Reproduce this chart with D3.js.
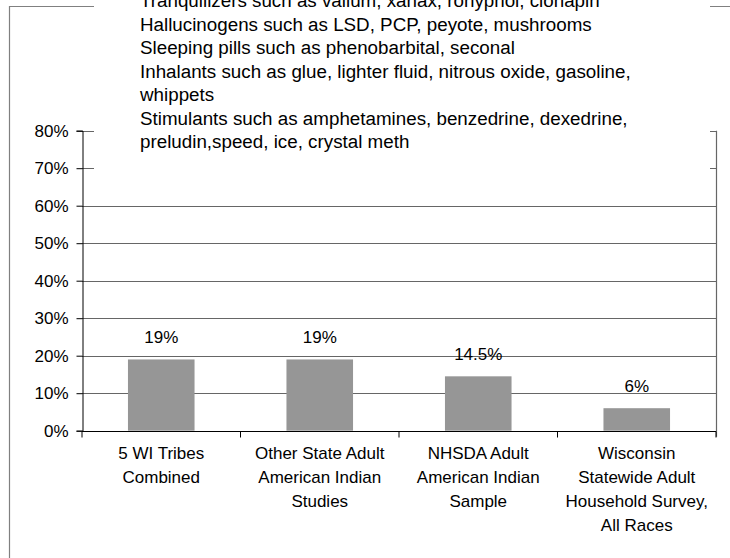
<!DOCTYPE html>
<html><head><meta charset="utf-8">
<script src="https://cdn.jsdelivr.net/npm/d3@7"></script>
<style>body{margin:0;background:#fff}svg{display:block}text{font-family:"Liberation Sans",Arial,sans-serif;fill:#000}</style>
</head><body>
<svg id="c" width="730" height="558"></svg>
<script>
const categories = [
  ["5 WI Tribes", "Combined"],
  ["Other State Adult", "American Indian", "Studies"],
  ["NHSDA Adult", "American Indian", "Sample"],
  ["Wisconsin", "Statewide Adult", "Household Survey,", "All Races"]
];
const values = [19, 19, 14.5, 6];
const valueLabels = ["19%", "19%", "14.5%", "6%"];
const yTicks = [0, 10, 20, 30, 40, 50, 60, 70, 80];
const legendLines = [
  "Tranquilizers such as valium, xanax, rohypnol, clonapin",
  "Hallucinogens such as LSD, PCP, peyote, mushrooms",
  "Sleeping pills such as phenobarbital, seconal",
  "Inhalants such as glue, lighter fluid, nitrous oxide, gasoline,",
  "whippets",
  "Stimulants such as amphetamines, benzedrine, dexedrine,",
  "preludin,speed, ice, crystal meth"
];

const svg = d3.select("#c");
const m = {left: 82, right: 716, top: 130.7, bottom: 430.7};
const x = d3.scaleBand().domain(d3.range(categories.length)).range([m.left, m.right]).paddingInner(0.58).paddingOuter(0.29);
const xb = d3.scaleBand().domain(d3.range(categories.length)).range([m.left, m.right]);
const y = d3.scaleLinear().domain([0, 80]).range([m.bottom, m.top]);

// outer chart border
svg.append("path").attr("d", `M9.5,${558}V6.5H730`).attr("fill", "none").attr("stroke", "#808080").attr("stroke-width", 1.2);

// gridlines
svg.append("g").selectAll("line").data(yTicks.filter(t => t > 0)).join("line")
  .attr("x1", m.left).attr("x2", m.right)
  .attr("y1", d => Math.round(y(d)) + 0.5).attr("y2", d => Math.round(y(d)) + 0.5)
  .attr("stroke", "#666").attr("stroke-width", 1.2);

// right border
svg.append("line").attr("x1", m.right + 0.5).attr("x2", m.right + 0.5)
  .attr("y1", y(80)).attr("y2", m.bottom + 6).attr("stroke", "#666").attr("stroke-width", 1.2);

// bars
svg.append("g").selectAll("rect").data(values).join("rect")
  .attr("x", (d, i) => x(i)).attr("width", x.bandwidth())
  .attr("y", d => y(d)).attr("height", d => y(0) - y(d))
  .attr("fill", "#969696");

// value labels
svg.append("g").selectAll("text").data(values).join("text")
  .attr("x", (d, i) => x(i) + x.bandwidth() / 2)
  .attr("y", d => y(d) - 16)
  .attr("text-anchor", "middle").attr("font-size", 17)
  .text((d, i) => valueLabels[i]);

// y axis
const ya = svg.append("g").attr("transform", `translate(${m.left + 0.5},0)`)
  .call(d3.axisLeft(y).tickValues(yTicks).tickFormat(d => d + "%").tickSize(6).tickPadding(8));
ya.select(".domain").attr("stroke", "#000");
ya.selectAll(".tick line").attr("stroke", "#000");
ya.selectAll("text").attr("font-size", 17).attr("font-family", null);

// x axis
const xa = svg.append("g").attr("transform", `translate(0,${Math.round(m.bottom) + 0.5})`);
xa.append("line").attr("x1", m.left).attr("x2", m.right).attr("stroke", "#000");
xa.selectAll("line.t").data(d3.range(categories.length + 1)).join("line").attr("class", "t")
  .attr("x1", i => i < categories.length ? xb(i) : m.right).attr("x2", i => i < categories.length ? xb(i) : m.right)
  .attr("y1", 0).attr("y2", 6).attr("stroke", "#000");
xa.selectAll("text").data(categories).join("text")
  .attr("x", (d, i) => xb(i) + xb.bandwidth() / 2)
  .attr("text-anchor", "middle").attr("font-size", 17)
  .selectAll("tspan").data(d => d).join("tspan")
  .attr("x", function () { return d3.select(this.parentNode).attr("x"); })
  .attr("y", (d, j) => 27 + j * 24)
  .text(d => d);

// legend box (covers top of plot)
svg.append("rect").attr("x", 94).attr("y", -40).attr("width", 616).attr("height", 225).attr("fill", "#fff");
svg.append("g").selectAll("text").data(legendLines).join("text")
  .attr("x", 140).attr("y", (d, i) => 7 + i * 23.5)
  .attr("font-size", 18.8)
  .text(d => d);
</script>
</body></html>
